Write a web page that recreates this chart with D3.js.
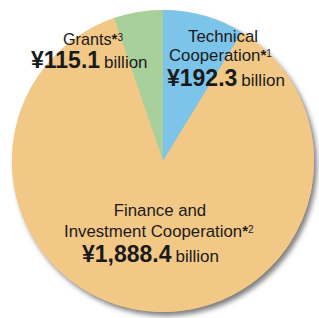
<!doctype html>
<html>
<head>
<meta charset="utf-8"/>
<title>ODA breakdown</title>
<script src="https://d3js.org/d3.v7.min.js"></script>
<style>
 body { margin:0; background:#fff; }
 text { font-family: "Liberation Sans", Arial, sans-serif; fill:#1a1a1a; }
</style>
</head>
<body>
<script>
// values in billion yen, clockwise from 12 o'clock
var categories = ["Technical Cooperation", "Finance and Investment Cooperation", "Grants"];
var values = [192.3, 1888.4, 115.1];
var colors = ["#7dc4ea", "#f2c887", "#a8d09a"];

var svg = d3.select("body").append("svg")
    .attr("width", 319)
    .attr("height", 318);

var defs = svg.append("defs");
var f = defs.append("filter").attr("id", "shadow")
    .attr("x", "-10%").attr("y", "-10%").attr("width", "125%").attr("height", "125%");
f.append("feDropShadow")
    .attr("dx", 3).attr("dy", 4).attr("stdDeviation", 2.5)
    .attr("flood-color", "#555").attr("flood-opacity", 0.75);

var cx = 163, cy = 161, r = 151;

var pie = d3.pie().sort(null).value(function(d){ return d; });
var arc = d3.arc().innerRadius(0).outerRadius(r);

var g = svg.append("g").attr("transform", "translate(" + cx + "," + cy + ")");
g.append("circle").attr("r", r).attr("fill", colors[1]).attr("filter", "url(#shadow)");
g.selectAll("path.slice")
  .data(pie(values))
  .enter().append("path")
  .attr("class", "slice")
  .attr("d", arc)
  .attr("fill", function(d, i){ return colors[i]; });

// labels
var lf = 16.8;
function star(t, n) {
  t.append("tspan").attr("font-size", 15).attr("font-weight", "bold").attr("dy", -1).text("*");
  t.append("tspan").attr("font-size", 10).attr("dy", -3).text(n);
}

function amount(x, y, v) {
  var t = svg.append("text").attr("x", x).attr("y", y);
  t.append("tspan").attr("font-size", 23).attr("font-weight", "bold").text("¥" + d3.format(",.1f")(v));
  t.append("tspan").attr("font-size", 17).attr("dx", 4).text("billion");
}

// Grants
var t1 = svg.append("text").attr("x", 63).attr("y", 45).attr("font-size", 16.2);
t1.append("tspan").text("Grants");
star(t1, "3");
amount(31, 68, values[2]);

// Technical
svg.append("text").attr("x", 223).attr("y", 42).attr("font-size", lf)
   .attr("text-anchor", "middle").text("Technical");
var t2 = svg.append("text").attr("x", 169).attr("y", 61).attr("font-size", lf);
t2.append("tspan").text("Cooperation");
star(t2, "1");
amount(167, 86, values[0]);

// Finance
svg.append("text").attr("x", 160).attr("y", 216).attr("font-size", lf)
   .attr("text-anchor", "middle").text("Finance and");
var t3 = svg.append("text").attr("x", 64).attr("y", 237).attr("font-size", lf);
t3.append("tspan").text("Investment Cooperation");
star(t3, "2");
amount(82, 262, values[1]);
</script>
</body>
</html>
